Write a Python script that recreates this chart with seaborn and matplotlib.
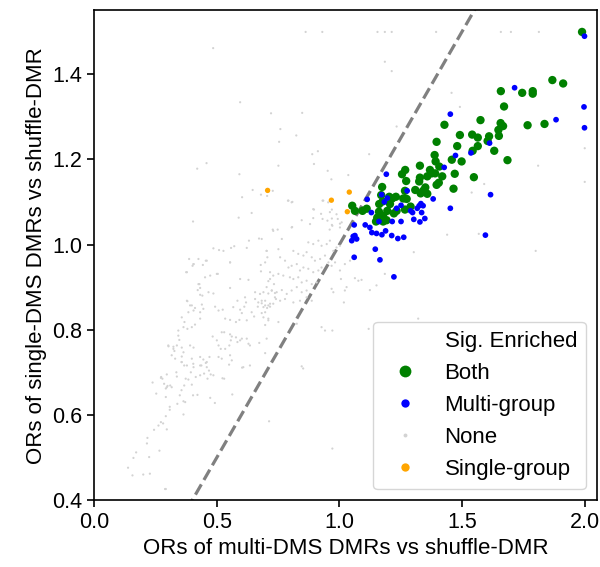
"""
Scatter of odds ratios: multi-DMS DMRs vs single-DMS DMRs, coloured by
which comparison is significantly enriched.
"""

import pandas as pd
import matplotlib
matplotlib.use("Agg")
import matplotlib.pyplot as plt
from matplotlib.lines import Line2D
import seaborn as sns

# (multi OR, single OR)
both_pts = [
    (1.989, 1.499), (1.868, 1.386), (1.912, 1.378), (1.658, 1.360), (1.745, 1.356),
    (1.788, 1.360), (1.788, 1.354), (1.671, 1.324), (1.575, 1.292), (1.428, 1.281),
    (1.657, 1.285), (1.667, 1.278), (1.767, 1.280), (1.836, 1.283), (1.491, 1.257),
    (1.541, 1.258), (1.564, 1.251), (1.610, 1.254), (1.648, 1.269), (1.650, 1.255),
    (1.396, 1.241), (1.480, 1.231), (1.564, 1.231), (1.543, 1.220), (1.631, 1.220),
    (1.604, 1.243), (1.685, 1.198), (1.388, 1.210), (1.392, 1.195), (1.498, 1.195),
    (1.458, 1.199), (1.407, 1.183), (1.328, 1.185), (1.369, 1.175), (1.376, 1.167),
    (1.390, 1.167), (1.268, 1.175), (1.255, 1.165), (1.470, 1.166), (1.548, 1.158),
    (1.419, 1.160), (1.358, 1.160), (1.328, 1.157), (1.325, 1.148), (1.272, 1.149),
    (1.174, 1.135), (1.396, 1.140), (1.405, 1.145), (1.465, 1.131), (1.350, 1.134),
    (1.341, 1.126), (1.358, 1.119), (1.309, 1.128), (1.331, 1.120), (1.267, 1.126),
    (1.260, 1.108), (1.230, 1.112), (1.170, 1.116), (1.162, 1.095), (1.176, 1.101),
    (1.206, 1.095), (1.290, 1.089), (1.267, 1.082), (1.233, 1.079), (1.222, 1.073),
    (1.161, 1.077), (1.195, 1.079), (1.154, 1.063), (1.178, 1.067), (1.192, 1.057),
    (1.178, 1.054), (1.149, 1.054), (1.094, 1.079), (1.111, 1.084), (1.052, 1.091),
    (1.063, 1.079), (1.274, 1.107), (1.203, 1.112), (1.215, 1.108),
]

multi_pts = [
    (1.999, 1.489), (1.714, 1.368), (1.452, 1.306), (1.997, 1.323), (1.883, 1.293),
    (1.999, 1.274), (1.612, 1.238), (1.536, 1.215), (1.473, 1.209), (1.427, 1.181),
    (1.191, 1.165), (1.276, 1.126), (1.172, 1.117), (1.113, 1.106), (1.382, 1.107),
    (1.616, 1.117), (1.195, 1.109), (1.183, 1.100), (1.251, 1.092), (1.233, 1.085),
    (1.332, 1.096), (1.325, 1.091), (1.341, 1.091), (1.290, 1.079), (1.298, 1.075),
    (1.335, 1.075), (1.317, 1.085), (1.452, 1.085), (1.130, 1.075), (1.348, 1.061),
    (1.303, 1.059), (1.328, 1.053), (1.251, 1.054), (1.215, 1.054), (1.161, 1.054),
    (1.060, 1.046), (1.105, 1.046), (1.124, 1.040), (1.132, 1.028), (1.151, 1.026),
    (1.173, 1.023), (1.188, 1.032), (1.213, 1.021), (1.238, 1.014), (1.262, 1.017),
    (1.595, 1.022), (1.056, 1.019), (1.070, 1.013), (1.050, 1.009), (1.063, 1.021),
    (1.146, 0.989), (1.060, 0.970), (1.165, 0.964), (1.222, 0.924),
]

single_pts = [(1.040, 1.123), (1.032, 1.077), (0.707, 1.127), (0.967, 1.104)]

none_pts = [
    # sparse points, upper and right
    (0.862, 1.499), (0.930, 1.499), (0.485, 1.461), (0.595, 1.334), (0.721, 1.308),
    (0.848, 1.309), (0.759, 1.271), (0.824, 1.256), (0.754, 1.241), (0.889, 1.212),
    (0.912, 1.219), (0.896, 1.189), (0.751, 1.185), (0.420, 1.178), (0.458, 1.191),
    (0.592, 1.165), (0.952, 1.173), (0.967, 1.153), (0.646, 1.128), (0.680, 1.117),
    (0.705, 1.114), (0.728, 1.126), (0.603, 1.111), (0.790, 1.103), (0.808, 1.100),
    (0.931, 1.103), (0.954, 1.099), (0.969, 1.082), (0.896, 1.082), (0.925, 1.072),
    (0.961, 1.076), (0.642, 1.074), (0.589, 1.063), (0.893, 1.062), (0.969, 1.061),
    (0.993, 1.060), (1.002, 1.049), (0.969, 1.046), (0.403, 1.054), (0.807, 1.041),
    (0.728, 1.035), (0.748, 1.035), (0.960, 1.035),
    (1.155, 1.499), (1.185, 1.499), (1.213, 1.499), (1.394, 1.499), (1.658, 1.499),
    (1.699, 1.499), (1.813, 1.499), (1.185, 1.429), (1.213, 1.407), (1.457, 1.356),
    (1.491, 1.323), (1.233, 1.277), (1.121, 1.212), (2.000, 1.226), (2.000, 1.147),
    (1.810, 1.185), (1.590, 1.142), (1.539, 1.122), (1.036, 1.163), (1.439, 1.023),
    (1.568, 1.025), (1.800, 0.985), (1.303, 0.982), (1.185, 0.931), (1.151, 0.904),
    (1.124, 0.893), (1.022, 0.954), (1.043, 0.962), (1.077, 0.915), (1.090, 0.917),
    (1.063, 0.921), (1.029, 0.900), (1.018, 0.864), (1.006, 0.919), (1.321, 0.826),
    (1.119, 0.802), (0.971, 0.798), (0.846, 0.714), (0.852, 0.709), (0.713, 0.585),
    (0.971, 0.521), (0.292, 0.426),
    # lower-left tail
    (0.289, 0.426), (0.138, 0.476), (0.156, 0.458), (0.200, 0.460), (0.227, 0.462),
    (0.160, 0.499), (0.171, 0.512), (0.224, 0.501), (0.266, 0.516), (0.215, 0.533),
    (0.217, 0.546), (0.244, 0.565), (0.262, 0.575), (0.272, 0.583), (0.281, 0.580),
    (0.296, 0.566), (0.292, 0.597), (0.308, 0.612), (0.308, 0.619), (0.364, 0.601),
    (0.339, 0.626), (0.364, 0.632), (0.371, 0.630), (0.253, 0.650), (0.292, 0.642),
    (0.349, 0.646), (0.356, 0.658), (0.238, 0.676), (0.278, 0.685), (0.299, 0.668),
    (0.316, 0.665), (0.292, 0.662), (0.285, 0.673), (0.272, 0.687), (0.296, 0.695),
    (0.337, 0.690), (0.367, 0.669), (0.373, 0.685), (0.384, 0.683), (0.398, 0.671),
    (0.403, 0.646), (0.421, 0.647), (0.414, 0.689), (0.432, 0.693), (0.448, 0.697),
    (0.462, 0.685), (0.475, 0.695), (0.486, 0.693), (0.468, 0.704), (0.473, 0.640),
    (0.492, 0.628), (0.523, 0.686), (0.530, 0.685), (0.563, 0.648), (0.550, 0.718),
    (0.603, 0.711), (0.335, 0.700), (0.356, 0.724), (0.367, 0.716), (0.394, 0.700),
    (0.404, 0.720), (0.437, 0.716), (0.455, 0.722), (0.273, 0.689), (0.296, 0.665),
    (0.310, 0.669),
    # main cloud
    (0.672, 1.014), (0.486, 0.991), (0.509, 0.987), (0.558, 0.992), (0.571, 0.996),
    (0.622, 0.992), (0.631, 1.009), (0.703, 0.985), (0.706, 0.970), (0.387, 0.966),
    (0.405, 0.954), (0.401, 0.950), (0.443, 0.952), (0.455, 0.962), (0.375, 0.935),
    (0.554, 0.958), (0.473, 0.927), (0.504, 0.931), (0.595, 0.919), (0.629, 0.917),
    (0.679, 0.952), (0.697, 0.958), (0.680, 0.937), (0.717, 0.919), (0.710, 0.914),
    (0.733, 0.907), (0.429, 0.907), (0.432, 0.898), (0.422, 0.893), (0.554, 0.898),
    (0.466, 0.888), (0.486, 0.885), (0.432, 0.882), (0.441, 0.880), (0.656, 0.888),
    (0.676, 0.884), (0.690, 0.888), (0.710, 0.885), (0.724, 0.892), (0.737, 0.886),
    (0.741, 0.872), (0.656, 0.872), (0.669, 0.864), (0.683, 0.862), (0.697, 0.868),
    (0.710, 0.857), (0.667, 0.854), (0.690, 0.853), (0.705, 0.851), (0.717, 0.854),
    (0.730, 0.861), (0.615, 0.876), (0.619, 0.864), (0.612, 0.854), (0.584, 0.868),
    (0.567, 0.853), (0.380, 0.867), (0.398, 0.857), (0.411, 0.851), (0.439, 0.859),
    (0.405, 0.845), (0.384, 0.841), (0.432, 0.841), (0.445, 0.849), (0.493, 0.854),
    (0.507, 0.845), (0.524, 0.847), (0.595, 0.847), (0.602, 0.839), (0.592, 0.823),
    (0.578, 0.818), (0.622, 0.822), (0.642, 0.841), (0.652, 0.831), (0.534, 0.826),
    (0.554, 0.823), (0.683, 0.839), (0.697, 0.841), (0.710, 0.826), (0.697, 0.811),
    (0.357, 0.829), (0.368, 0.818), (0.364, 0.806), (0.380, 0.802), (0.398, 0.806),
    (0.411, 0.812), (0.432, 0.826), (0.343, 0.786), (0.347, 0.776), (0.337, 0.763),
    (0.357, 0.758), (0.391, 0.763), (0.405, 0.758), (0.483, 0.784), (0.500, 0.775),
    (0.520, 0.794), (0.530, 0.794), (0.554, 0.789), (0.561, 0.784), (0.557, 0.775),
    (0.551, 0.763), (0.507, 0.763), (0.516, 0.755), (0.534, 0.755), (0.578, 0.782),
    (0.584, 0.771), (0.595, 0.775), (0.622, 0.779), (0.629, 0.767), (0.635, 0.763),
    (0.303, 0.761), (0.323, 0.755), (0.327, 0.750), (0.316, 0.740), (0.330, 0.732),
    (0.357, 0.737), (0.364, 0.747), (0.398, 0.732), (0.432, 0.736), (0.445, 0.730),
    (0.470, 0.736), (0.459, 0.724), (0.507, 0.736), (0.520, 0.732), (0.554, 0.740),
    (0.561, 0.728), (0.357, 0.724), (0.378, 0.716), (0.405, 0.712), (0.432, 0.716),
    (0.459, 0.712), (0.602, 0.779), (0.608, 0.712), (0.635, 0.716), (0.673, 0.769),
    (0.697, 0.745), (0.378, 0.868), (0.391, 0.857), (0.378, 0.935), (0.405, 0.954),
    (0.425, 0.907), (0.452, 0.923), (0.459, 0.962), (0.425, 0.966), (0.343, 0.798),
    (0.323, 0.760), (0.302, 0.763), (0.500, 0.931), (0.554, 0.958), (0.527, 0.985),
    # cloud next to the diagonal
    (0.706, 1.124), (0.805, 1.099), (0.792, 1.103), (0.893, 1.083), (0.934, 1.103),
    (0.931, 1.060), (0.988, 1.071), (1.009, 1.052), (1.002, 1.040), (0.951, 1.056),
    (0.971, 1.044), (0.880, 1.048), (0.846, 1.057), (0.805, 1.040), (0.765, 1.013),
    (0.751, 0.989), (0.730, 1.032), (0.683, 1.013), (0.703, 0.985), (0.873, 1.005),
    (0.893, 1.001), (0.914, 1.009), (0.927, 0.997), (0.948, 1.001), (0.961, 1.009),
    (0.975, 0.985), (0.988, 0.993), (1.002, 0.997), (0.812, 0.985), (0.832, 0.978),
    (0.853, 0.974), (0.866, 0.982), (0.887, 0.970), (0.900, 0.962), (0.921, 0.966),
    (0.941, 0.974), (0.955, 0.958), (0.968, 0.950), (0.982, 0.958), (0.758, 0.970),
    (0.778, 0.962), (0.792, 0.946), (0.805, 0.950), (0.826, 0.954), (0.839, 0.939),
    (0.853, 0.946), (0.873, 0.943), (0.893, 0.935), (0.914, 0.939), (0.927, 0.946),
    (0.717, 0.935), (0.730, 0.927), (0.751, 0.931), (0.771, 0.927), (0.798, 0.923),
    (0.812, 0.919), (0.832, 0.923), (0.846, 0.911), (0.866, 0.915), (0.887, 0.907),
    (0.907, 0.911), (0.703, 0.900), (0.724, 0.892), (0.744, 0.888), (0.765, 0.893),
    (0.785, 0.884), (0.805, 0.892), (0.826, 0.900), (0.846, 0.888), (0.866, 0.892),
    (0.683, 0.868), (0.697, 0.857), (0.717, 0.861), (0.737, 0.876), (0.758, 0.868),
    (0.778, 0.872), (0.812, 0.864), (0.839, 0.868), (0.866, 0.876), (0.887, 0.868),
    (0.968, 0.896), (0.975, 0.888), (1.022, 0.892), (1.002, 0.939), (0.690, 0.829),
    (0.710, 0.822), (0.751, 0.818), (0.826, 0.814), (0.927, 0.806), (0.703, 0.779),
    (0.941, 0.798),
]

groups = ["None", "Both", "Multi-group", "Single-group"]
group_pts = [none_pts, both_pts, multi_pts, single_pts]

palette = {"Both": "green", "Multi-group": "blue", "None": "lightgray", "Single-group": "orange"}
sizes = {"Both": 36, "Multi-group": 17, "None": 2.5, "Single-group": 15}

frames = []
for name, pts in zip(groups, group_pts):
    part = pd.DataFrame(pts, columns=["multi_or", "single_or"])
    part["sig"] = name
    frames.append(part)
df = pd.concat(frames, ignore_index=True)

sns.set_style("ticks")
plt.rcParams["font.family"] = ["Liberation Sans", "DejaVu Sans"]
plt.rcParams["text.color"] = "black"
plt.rcParams["axes.labelcolor"] = "black"
plt.rcParams["xtick.color"] = "black"
plt.rcParams["ytick.color"] = "black"
plt.rcParams["axes.edgecolor"] = "black"

fig, ax = plt.subplots(figsize=(6, 5.67), dpi=100)
fig.subplots_adjust(left=0.157, right=0.995, bottom=0.118, top=0.982)

sns.scatterplot(
    data=df, x="multi_or", y="single_or",
    hue="sig", palette=palette,
    size="sig", sizes=sizes,
    linewidth=0, legend=False, ax=ax,
)

# diagonal y = x
ax.plot([0, 2], [0, 2], color="gray", linestyle="--", linewidth=2.3, zorder=0.5)

ax.set_xlim(0.0, 2.05)
ax.set_ylim(0.4, 1.55)
ax.set_xticks([0.0, 0.5, 1.0, 1.5, 2.0])
ax.set_yticks([0.4, 0.6, 0.8, 1.0, 1.2, 1.4])
ax.tick_params(labelsize=15.5, width=1.2, length=5)
for sp in ax.spines.values():
    sp.set_linewidth(1.2)

ax.set_xlabel("ORs of multi-DMS DMRs vs shuffle-DMR", fontsize=16)
ax.set_ylabel("ORs of single-DMS DMRs vs shuffle-DMR", fontsize=16)

# legend with the hue title as its own row (old seaborn look)
handles = [Line2D([], [], linestyle="", marker="")]
labels = ["Sig. Enriched"]
for name, ms in [("Both", 8.5), ("Multi-group", 6), ("None", 2.8), ("Single-group", 6)]:
    handles.append(Line2D([], [], linestyle="", marker="o", markersize=ms,
                          markerfacecolor=palette[name], markeredgewidth=0))
    labels.append(name)
ax.legend(handles, labels, loc="lower right", fontsize=16)

plt.savefig("out.png", dpi=100)
